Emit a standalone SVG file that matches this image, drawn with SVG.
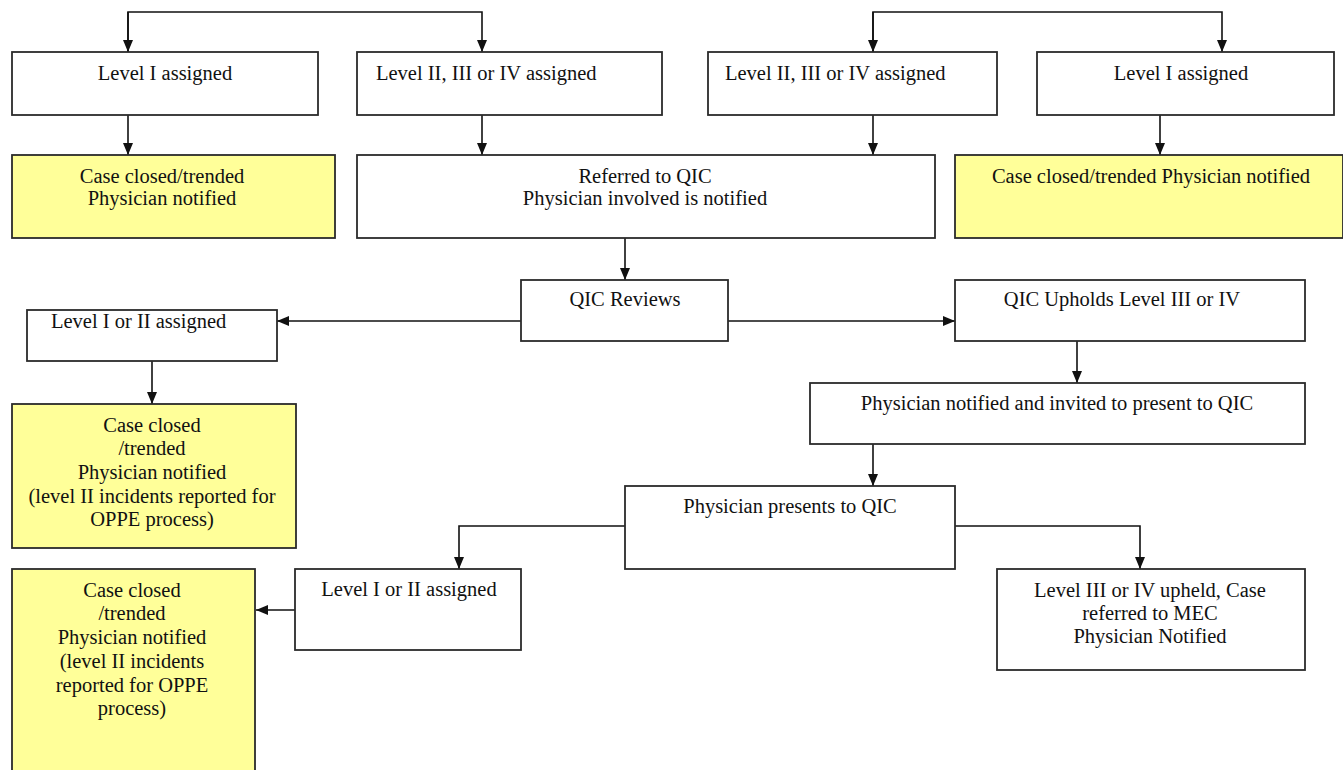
<svg xmlns="http://www.w3.org/2000/svg" width="1343" height="770" viewBox="0 0 1343 770">
<style>
.box{fill:#ffffff;stroke:#2b2b2b;stroke-width:1.8}
.yel{fill:#ffff99;stroke:#2b2b2b;stroke-width:1.8}
text{font-family:'Liberation Serif','Times New Roman','DejaVu Serif',serif;font-size:20.5px;fill:#111}
.t{text-anchor:middle}
.c{fill:none;stroke:#111;stroke-width:1.6}
</style>
<defs>
<marker id="ah" viewBox="0 0 12 10" refX="12" refY="5" markerWidth="12" markerHeight="10" markerUnits="userSpaceOnUse" orient="auto">
<path d="M0,0 L12,5 L0,10 z" fill="#111"/>
</marker>
</defs>
<rect width="1343" height="770" fill="#ffffff"/>
<g id="connectors">
<path class="c" d="M128,52 V12 H482 V52" marker-end="url(#ah)"/>
<path class="c" d="M128,12 V52" marker-end="url(#ah)"/>
<path class="c" d="M873,52 V12 H1222 V52" marker-end="url(#ah)"/>
<path class="c" d="M873,12 V52" marker-end="url(#ah)"/>
<path class="c" d="M128,115 V155" marker-end="url(#ah)"/>
<path class="c" d="M482,115 V155" marker-end="url(#ah)"/>
<path class="c" d="M873,115 V155" marker-end="url(#ah)"/>
<path class="c" d="M1160,115 V155" marker-end="url(#ah)"/>
<path class="c" d="M625,238 V280" marker-end="url(#ah)"/>
<path class="c" d="M521,321 H277" marker-end="url(#ah)"/>
<path class="c" d="M152,361 V404" marker-end="url(#ah)"/>
<path class="c" d="M728,321 H955" marker-end="url(#ah)"/>
<path class="c" d="M1077,341 V383" marker-end="url(#ah)"/>
<path class="c" d="M873,444 V486" marker-end="url(#ah)"/>
<path class="c" d="M625,526 H459 V569" marker-end="url(#ah)"/>
<path class="c" d="M295,610 H256" marker-end="url(#ah)"/>
<path class="c" d="M955,526 H1140 V569" marker-end="url(#ah)"/>
</g>
<g id="n-l1"><rect class="box" x="12" y="52" width="306" height="63"/><text class="t" x="165" y="80">Level I assigned</text></g>
<g id="n-l234a"><rect class="box" x="357" y="52" width="305" height="63"/><text x="376" y="80">Level II, III or IV assigned</text></g>
<g id="n-y1"><rect class="yel" x="12" y="155" width="323" height="83"/><text class="t" x="162" y="183">Case closed/trended</text><text class="t" x="162" y="205">Physician notified</text></g>
<g id="n-ref"><rect class="box" x="357" y="155" width="578" height="83"/><text class="t" x="645" y="183">Referred to QIC</text><text class="t" x="645" y="205">Physician involved is notified</text></g>
<g id="n-l234b"><rect class="box" x="708" y="52" width="289" height="63"/><text x="725" y="80">Level II, III or IV assigned</text></g>
<g id="n-l1b"><rect class="box" x="1037" y="52" width="297" height="63"/><text class="t" x="1181" y="80">Level I assigned</text></g>
<g id="n-y2"><rect class="yel" x="955" y="155" width="388" height="83"/><text class="t" x="1151" y="183">Case closed/trended Physician notified</text></g>
<g id="n-rev"><rect class="box" x="521" y="280" width="207" height="61"/><text class="t" x="625" y="306">QIC Reviews</text></g>
<g id="n-l12a"><rect class="box" x="27" y="310" width="250" height="51"/><text x="51" y="328">Level I or II assigned</text></g>
<g id="n-y3"><rect class="yel" x="12" y="404" width="284" height="144"/>
<text class="t" x="152" y="432">Case closed</text>
<text class="t" x="152" y="455">/trended</text>
<text class="t" x="152" y="479">Physician notified</text>
<text class="t" x="152" y="503">(level II incidents reported for</text>
<text class="t" x="152" y="526">OPPE process)</text></g>
<g id="n-up"><rect class="box" x="955" y="280" width="350" height="61"/><text class="t" x="1122" y="306">QIC Upholds Level III or IV</text></g>
<g id="n-inv"><rect class="box" x="810" y="383" width="495" height="61"/><text class="t" x="1057" y="410">Physician notified and invited to present to QIC</text></g>
<g id="n-pres"><rect class="box" x="625" y="486" width="330" height="83"/><text class="t" x="790" y="513">Physician presents to QIC</text></g>
<g id="n-l12b"><rect class="box" x="295" y="569" width="226" height="81"/><text class="t" x="409" y="596">Level I or II assigned</text></g>
<g id="n-y4"><rect class="yel" x="12" y="569" width="243" height="210"/>
<text class="t" x="132" y="597">Case closed</text>
<text class="t" x="132" y="620">/trended</text>
<text class="t" x="132" y="644">Physician notified</text>
<text class="t" x="132" y="668">(level II incidents</text>
<text class="t" x="132" y="692">reported for OPPE</text>
<text class="t" x="132" y="715">process)</text></g>
<g id="n-mec"><rect class="box" x="997" y="569" width="308" height="101"/>
<text class="t" x="1150" y="597">Level III or IV upheld, Case</text>
<text class="t" x="1150" y="620">referred to MEC</text>
<text class="t" x="1150" y="643">Physician Notified</text></g>
</svg>
